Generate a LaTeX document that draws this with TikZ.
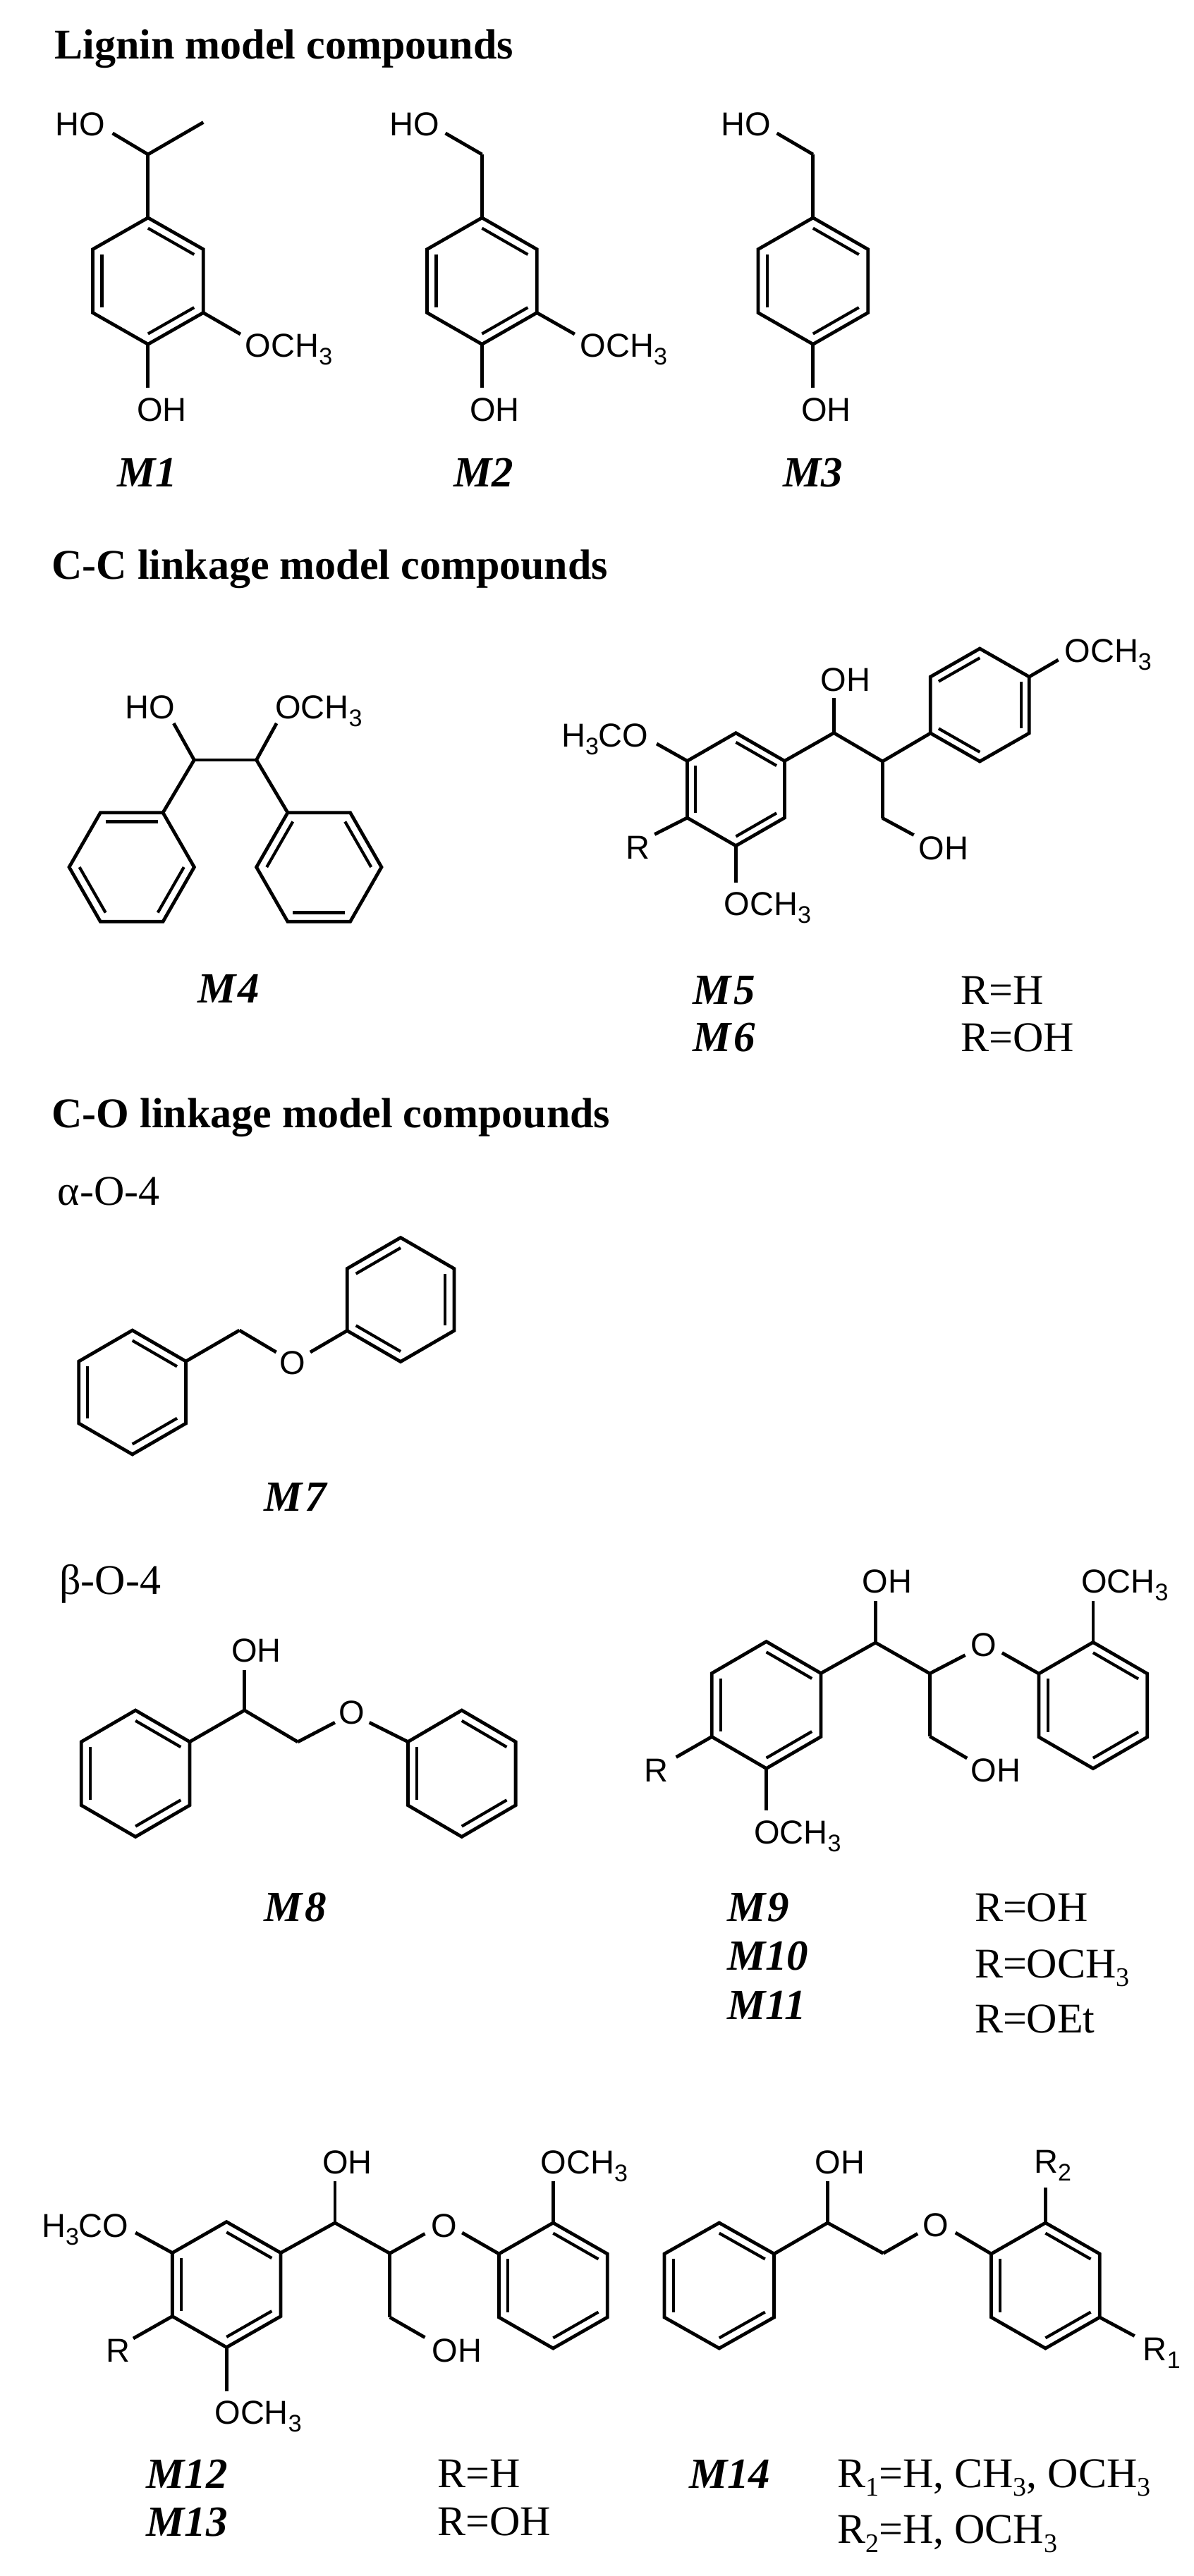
\documentclass[tikz,border=0pt]{standalone}
\usepackage{fontspec}
\setmainfont{Liberation Serif}
\newfontfamily\arialf{Liberation Sans}
\usetikzlibrary{calc}
\tikzset{
  bond/.style={line width=4.8pt,line join=miter,line cap=butt,black},
  innerbond/.style={line width=4.2pt,line cap=butt,black},
  satom/.style={inner sep=0pt,outer sep=0pt,font=\arialf\fontsize{47}{50}\selectfont},
  rtext/.style={inner sep=0pt,outer sep=0pt,font=\fontsize{60}{64}\selectfont},
  mlabel/.style={inner sep=0pt,outer sep=0pt,font=\bfseries\itshape\fontsize{61}{64}\selectfont},
  heading/.style={inner sep=0pt,outer sep=0pt,anchor=base west,font=\bfseries\fontsize{60}{64}\selectfont}
}
% subscripts
\newcommand{\asub}[1]{\raisebox{-11pt}{\fontsize{34}{36}\selectfont #1}}
\newcommand{\rsub}[1]{\raisebox{-12.5pt}{\fontsize{38}{40}\selectfont #1}}
% pointy-top ring: name cx cy w h s
\newcommand{\pring}[6]{%
  \coordinate (#1c) at (#2,#3);
  \coordinate (#1a) at (#2,#3-#5);
  \coordinate (#1b) at (#2+#4,#3-#6);
  \coordinate (#1d) at (#2+#4,#3+#6);
  \coordinate (#1e) at (#2,#3+#5);
  \coordinate (#1f) at (#2-#4,#3+#6);
  \coordinate (#1g) at (#2-#4,#3-#6);
  \draw[bond] (#1a)--(#1b)--(#1d)--(#1e)--(#1f)--(#1g)--cycle;
}
% flat-top ring: name cx cy topHalf midHalf h
\newcommand{\fring}[6]{%
  \coordinate (#1c) at (#2,#3);
  \coordinate (#1a) at (#2-#4,#3-#6);
  \coordinate (#1b) at (#2+#4,#3-#6);
  \coordinate (#1d) at (#2+#5,#3);
  \coordinate (#1e) at (#2+#4,#3+#6);
  \coordinate (#1f) at (#2-#4,#3+#6);
  \coordinate (#1g) at (#2-#5,#3);
  \draw[bond] (#1a)--(#1b)--(#1d)--(#1e)--(#1f)--(#1g)--cycle;
}
\newcommand{\dbl}[3]{\draw[innerbond] ($(#1c)!.835!(#1#2)$) -- ($(#1c)!.835!(#1#3)$);}
\newcommand{\dblA}[1]{\dbl{#1}{a}{b}\dbl{#1}{d}{e}\dbl{#1}{f}{g}}
\newcommand{\dblB}[1]{\dbl{#1}{g}{a}\dbl{#1}{b}{d}\dbl{#1}{e}{f}}
% atoms: name x ycentre text
\newcommand{\atomL}[4]{\node[satom,anchor=base west] (#1) at (#2,#3+17) {#4};}
\newcommand{\atomC}[4]{\node[satom,anchor=base] (#1) at (#2,#3+17) {#4};}
\newcommand{\serL}[4]{\node[rtext,anchor=base west] (#1) at (#2,#3+20) {#4};}
\newcommand{\mL}[4]{\node[mlabel,anchor=base west] (#1) at (#2,#3+20) {#4};}
\newcommand{\mC}[4]{\node[mlabel,anchor=base] (#1) at (#2,#3+20) {#4};}
\newcommand{\pt}[3]{\coordinate (#1) at (#2,#3);}
\newcommand{\bnd}[2]{\draw[bond] (#1)--(#2);}
\begin{document}
\begin{tikzpicture}[x=0.98531pt,y=-1pt]
\useasboundingbox (0,0) rectangle (1718.2,3654);
\fill[white] (0,0) rectangle (1718.2,3654);
% ---------- headings
\node[heading] (h1) at (79,83) {Lignin model compounds};
\node[heading] (h2) at (74.5,821) {C-C linkage model compounds};
\node[heading] (h3) at (74.5,1599) {C-O linkage model compounds};
\serL{alpha}{83}{1689.5}{α-O-4}
\serL{beta}{85.5}{2241}{β-O-4}
% ---------- M1
\pring{A}{213}{398.6}{79.5}{89.7}{45}\dblA{A}
\pt{A1}{213}{219}\bnd{Aa}{A1}
\pt{A2}{292.6}{173.5}\bnd{A1}{A2}
\pt{A3}{162}{189}\bnd{A1}{A3}
\pt{A4}{346}{474}\bnd{Ad}{A4}
\pt{A5}{213}{550}\bnd{Ae}{A5}
\atomL{a1}{80}{175}{HO}
\atomL{a2}{353}{489}{OCH\asub{3}}
\atomL{a3}{197}{580}{OH}
\mC{mA}{211.5}{670}{M1}
% ---------- M2
\pring{B}{693.6}{398.6}{79}{89.7}{45}\dblA{B}
\pt{B1}{693.6}{219}\bnd{Ba}{B1}
\pt{B3}{641}{189}\bnd{B1}{B3}
\pt{B4}{827}{474}\bnd{Bd}{B4}
\pt{B5}{693.6}{550}\bnd{Be}{B5}
\atomL{b1}{561}{175}{HO}
\atomL{b2}{835}{489}{OCH\asub{3}}
\atomL{b3}{676}{580}{OH}
\mC{mB}{696}{670}{M2}
% ---------- M3
\pring{C}{1170}{398.6}{79}{89.7}{45}\dblA{C}
\pt{C1}{1170}{219}\bnd{Ca}{C1}
\pt{C3}{1118}{189}\bnd{C1}{C3}
\pt{C5}{1170}{550}\bnd{Ce}{C5}
\atomL{c1}{1038}{175}{HO}
\atomL{c3}{1153}{580}{OH}
\mC{mC}{1170}{670}{M3}
% ---------- M4
\fring{D}{189.5}{1230}{45}{90}{77.3}
\dbl{D}{a}{b}\dbl{D}{d}{e}\dbl{D}{f}{g}
\fring{E}{459}{1230}{45}{90}{77.3}
\dbl{E}{b}{d}\dbl{E}{e}{f}\dbl{E}{g}{a}
\pt{D1}{279.4}{1078}\pt{D2}{369}{1078}
\pt{D3}{250}{1026}\pt{D4}{398}{1026}
\bnd{D1}{D2}\bnd{D1}{D3}\bnd{D2}{D4}
\bnd{D1}{Db}\bnd{D2}{Ea}
\atomC{d1}{216}{1002}{HO}
\atomL{d2}{396}{1002}{OCH\asub{3}}
\mC{mD}{329}{1402}{M\kern3pt 4}
% ---------- M5/M6
\pring{F}{1059}{1119.7}{70}{80}{40.3}\dblA{F}
\pring{G}{1410}{1000}{71}{80}{40}\dblB{G}
\pt{F1}{1200}{1039.6}\pt{F2}{1270}{1080}\pt{F3}{1270}{1160.5}
\pt{F4}{1315}{1184.5}\pt{F5}{1200}{989.6}\pt{F6}{1523}{936}
\pt{F7}{945}{1055}\pt{F8}{942}{1183.5}\pt{F9}{1059}{1252}
\bnd{Fb}{F1}\bnd{F1}{F2}\bnd{F2}{F3}\bnd{F3}{F4}\bnd{F1}{F5}
\bnd{F2}{Gf}\bnd{Gb}{F6}\bnd{Fg}{F7}\bnd{Ff}{F8}\bnd{Fe}{F9}
\atomC{f1}{1358}{1202}{OH}
\atomC{f2}{1217}{963}{OH}
\atomL{f3}{1532}{922}{OCH\asub{3}}
\atomL{f4}{808}{1042}{H\asub{3}CO}
\atomC{f5}{918}{1201}{R}
\atomL{f6}{1042}{1281}{OCH\asub{3}}
\mC{mE}{1042}{1404}{M\kern3pt 5}
\mC{mF}{1042}{1471}{M\kern3pt 6}
\serL{rE}{1383}{1404}{R=H}
\serL{rF}{1383}{1471}{R=OH}
% ---------- M7
\pring{H}{190.5}{1975}{77}{88}{44}\dblA{H}
\pring{I}{576.5}{1843.5}{77}{88}{44}\dblB{I}
\pt{H1}{344.5}{1887}\pt{H2}{397.5}{1918}\pt{H3}{446.5}{1918}
\bnd{Hb}{H1}\bnd{H1}{H2}\bnd{H3}{If}
\atomC{h1}{421}{1932}{O}
\mC{mH}{425}{2123}{M\kern3pt 7}
% ---------- M8
\pring{J}{195}{2515.7}{78}{89.7}{45}\dblA{J}
\pring{K}{664.5}{2515.7}{77.5}{89.7}{45}\dblA{K}
\pt{J1}{351.8}{2426}\pt{J2}{351.8}{2368.7}\pt{J3}{428.5}{2470.8}
\pt{J4}{482}{2443.3}\pt{J5}{531.5}{2443.3}
\bnd{Jb}{J1}\bnd{J1}{J2}\bnd{J1}{J3}\bnd{J3}{J4}\bnd{J5}{Kg}
\atomC{j1}{369}{2340}{OH}
\atomC{j2}{506}{2428.7}{O}
\mC{mJ}{425}{2705.5}{M\kern3pt 8}
% ---------- M9-M11
\pring{L}{1102.8}{2418.5}{78.5}{90}{45}\dblA{L}
\pring{N}{1573}{2419}{78}{89.5}{45}\dblA{N}
\pt{L1}{1260}{2330}\pt{L2}{1260}{2271}\pt{L3}{1338}{2373.8}\pt{L4}{1338}{2463}
\pt{L5}{1391.7}{2494}\pt{L6}{1389}{2347.7}\pt{L7}{1442}{2344.5}
\pt{L8}{1573}{2271}\pt{L9}{973}{2492.5}\pt{L0}{1102.8}{2568}
\bnd{Lb}{L1}\bnd{L1}{L2}\bnd{L1}{L3}\bnd{L3}{L4}\bnd{L4}{L5}
\bnd{L3}{L6}\bnd{L7}{Ng}\bnd{Na}{L8}\bnd{Lf}{L9}\bnd{Le}{L0}
\atomC{l1}{1276.6}{2242.5}{OH}
\atomC{l2}{1433}{2510}{OH}
\atomC{l3}{1416}{2332.4}{O}
\atomL{l4}{1556}{2242.5}{OCH\asub{3}}
\atomC{l5}{944.6}{2510}{R}
\atomL{l6}{1085}{2598}{OCH\asub{3}}
\mL{mL}{1046.5}{2705}{M\kern3pt 9}
\mL{mM}{1046.5}{2774}{M10}
\mL{mN}{1046.5}{2844}{M11}
\serL{rL}{1402.6}{2705}{R=OH}
\serL{rM}{1402.6}{2785}{R=OCH\rsub{3}}
\serL{rN}{1402.6}{2863.5}{R=OEt}
% ---------- M12/M13
\pring{P}{326}{3240.6}{78}{89}{45}\dblA{P}
\pring{Q}{796}{3242}{78}{89}{45}\dblA{Q}
\pt{P1}{482}{3153}\pt{P2}{482}{3093.7}\pt{P3}{561}{3196.3}\pt{P4}{561}{3287}
\pt{P5}{611.5}{3315.6}\pt{P6}{611.5}{3168.4}\pt{P7}{665}{3167}
\pt{P8}{796}{3093.7}\pt{P9}{195}{3167}\pt{P0}{191.8}{3317}\pt{P10}{326}{3391.7}
\bnd{Pb}{P1}\bnd{P1}{P2}\bnd{P1}{P3}\bnd{P3}{P4}\bnd{P4}{P5}
\bnd{P3}{P6}\bnd{P7}{Qg}\bnd{Qa}{P8}\bnd{Pg}{P9}\bnd{Pf}{P0}\bnd{Pe}{P10}
\atomL{p1}{60}{3156.5}{H\asub{3}CO}
\atomC{p2}{170}{3333}{R}
\atomL{p3}{309}{3421.7}{OCH\asub{3}}
\atomC{p4}{499.7}{3066}{OH}
\atomC{p5}{657.5}{3333}{OH}
\atomC{p6}{639}{3156.5}{O}
\atomL{p7}{778}{3066}{OCH\asub{3}}
\mL{mP}{210.4}{3509}{M12}
\mL{mQ}{210.4}{3577}{M13}
\serL{rP}{630}{3508}{R=H}
\serL{rQ}{630}{3576}{R=OH}
% ---------- M14
\pring{S}{1035}{3242}{79}{89}{45}\dblA{S}
\pring{T}{1504.5}{3242}{78}{89}{45}\dblA{T}
\pt{S1}{1191}{3153}\pt{S2}{1191}{3093.7}\pt{S3}{1271}{3196.3}
\pt{S4}{1320.5}{3168.4}\pt{S5}{1375}{3167}\pt{S6}{1504.5}{3103}\pt{S7}{1632.7}{3313.5}
\bnd{Sb}{S1}\bnd{S1}{S2}\bnd{S1}{S3}\bnd{S3}{S4}\bnd{S5}{Tg}\bnd{Ta}{S6}\bnd{Td}{S7}
\atomC{s1}{1208.6}{3066}{OH}
\atomC{s2}{1346.7}{3155}{O}
\atomL{s3}{1488}{3065}{R\asub{2}}
\atomL{s4}{1645}{3331.5}{R\asub{1}}
\mL{mS}{991.7}{3509}{M14}
\serL{rS}{1205}{3508}{R\rsub{1}=H, CH\rsub{3}, OCH\rsub{3}}
\serL{rT}{1205}{3587.5}{R\rsub{2}=H, OCH\rsub{3}}
\end{tikzpicture}
\end{document}
